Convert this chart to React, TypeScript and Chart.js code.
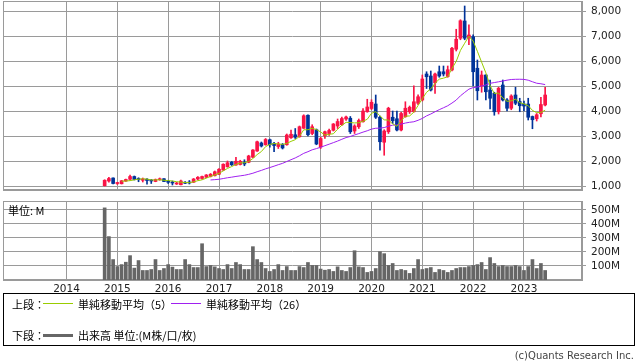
import React, { useEffect, useRef } from 'react';
import { Chart, registerables } from 'chart.js';

Chart.register(...registerables);

// ---- data (monthly, from 2014-10 to 2023-06) ----
const FIRST_YEAR = 2014;
const FIRST_MONTH = 10;

const opens = [
  1010, 1200, 1320,
  1100, 1090, 1200, 1270, 1380, 1300, 1230, 1270, 1230, 1180, 1250, 1290,
  1190, 1160, 1080, 1050, 1150, 1140, 1150, 1280, 1300, 1350, 1380, 1410,
  1470, 1640, 1770, 1950, 1840, 1860, 1950, 1950, 2150, 2400, 2720, 2650,
  2850, 2700, 2580, 2660, 2650, 2930, 3050, 2970, 3310, 3830, 3100, 3250,
  2560, 3010, 3100, 3230, 3400, 3450, 3680, 3710, 3200, 3370, 3570, 3970,
  4100, 4280, 3750, 2750, 3170, 3750, 3690, 3240, 3770, 3970, 3970, 4310,
  4440, 5480, 5400, 5130, 5570, 5570, 5380, 5640, 6470, 6910, 7600, 6920,
  6970, 5710, 5000, 5440, 4840, 4710, 3970, 5040, 4440, 4110, 4640, 4380,
  4280, 4280, 3780, 3690, 3890, 4240,
];
const highs = [
  1250, 1350, 1330,
  1150, 1220, 1280, 1440, 1400, 1330, 1320, 1300, 1260, 1280, 1320, 1300,
  1230, 1200, 1150, 1240, 1180, 1220, 1300, 1380, 1400, 1460, 1500, 1600,
  1700, 1890, 2000, 1980, 2150, 2030, 2050, 2230, 2460, 2800, 2760, 2900,
  2880, 2750, 2750, 2700, 3080, 3240, 3300, 3400, 3850, 3850, 3450, 3280,
  2950, 3200, 3280, 3500, 3680, 3760, 3800, 3780, 3450, 3680, 4100, 4470,
  4450, 4640, 3800, 3250, 4150, 4000, 4000, 3950, 4370, 4200, 5010, 4650,
  5440, 5570, 5600, 5520, 5800, 5800, 5800, 6550, 7270, 7650, 8200, 7450,
  7050, 6040, 5600, 5450, 5240, 4750, 4950, 5240, 4500, 4650, 4950, 4510,
  4400, 4510, 3800, 3900, 4550, 4950,
];
const lows = [
  1000, 1150, 1080,
  1060, 1080, 1180, 1230, 1240, 1170, 1160, 1070, 1100, 1170, 1230, 1170,
  1100, 1040, 1060, 1040, 1090, 1080, 1140, 1240, 1270, 1330, 1360, 1400,
  1450, 1620, 1750, 1820, 1820, 1840, 1810, 1930, 2130, 2380, 2560, 2630,
  2550, 2370, 2500, 2480, 2630, 2900, 2900, 2950, 3300, 3000, 3050, 2650,
  2500, 2900, 3020, 3200, 3300, 3420, 3620, 3100, 3100, 3300, 3550, 3950,
  4050, 3700, 2430, 2230, 3100, 3500, 3200, 3200, 3750, 3900, 3950, 4250,
  4400, 4900, 4800, 4700, 5350, 5400, 5350, 5600, 6400, 6850, 6850, 6650,
  5000, 4440, 4750, 4440, 4080, 3830, 3880, 4400, 4000, 4050, 4250, 3970,
  4000, 3640, 3290, 3600, 3760, 4200,
];
const closes = [
  1230, 1300, 1100,
  1120, 1210, 1260, 1380, 1260, 1250, 1280, 1220, 1200, 1260, 1290, 1180,
  1150, 1120, 1120, 1200, 1110, 1120, 1280, 1350, 1380, 1440, 1470, 1570,
  1670, 1870, 1930, 1850, 1990, 1990, 1880, 2200, 2440, 2770, 2600, 2860,
  2650, 2620, 2680, 2520, 3040, 3070, 2950, 3370, 3810, 3050, 3370, 2680,
  2900, 3170, 3220, 3480, 3580, 3700, 3760, 3170, 3400, 3620, 4000, 4160,
  4350, 3750, 2770, 3200, 4110, 3610, 3240, 3900, 4110, 4150, 4370, 4570,
  5280, 5370, 4840, 5480, 5400, 5480, 5650, 6510, 6870, 7610, 6910, 7040,
  5570, 4810, 5440, 4770, 4510, 3970, 4910, 4440, 4110, 4600, 4310, 4210,
  4200, 3750, 3650, 3850, 4260, 4640,
];
// volume in millions
const volumes = [
  515, 310, 146,
  96, 110, 127, 174, 85, 139, 68, 68, 75, 146, 68, 82,
  110, 92, 75, 75, 146, 110, 89, 89, 259, 96, 104, 94,
  82, 75, 110, 82, 125, 110, 75, 75, 238, 146, 125, 82,
  61, 75, 110, 68, 96, 68, 68, 96, 89, 125, 104, 104,
  78, 70, 75, 61, 94, 68, 61, 89, 209, 94, 89, 54,
  61, 82, 202, 188, 104, 118, 68, 75, 68, 47, 82, 146,
  75, 82, 89, 54, 75, 68, 54, 68, 82, 89, 89, 96,
  104, 110, 125, 75, 160, 118, 96, 104, 96, 96, 104, 96,
  68, 96, 146, 82, 118, 68,
];

const yearLabels = ['2014', '2015', '2016', '2017', '2018', '2019', '2020', '2021', '2022', '2023'];
const priceTicks = [1000, 2000, 3000, 4000, 5000, 6000, 7000, 8000];
const volumeTicks = [100, 200, 300, 400, 500];

// ---- styles ----
const GRID = '#9a9a9a';
const UP = '#fa1446';
const DOWN = '#003399';
const SMA5_COLOR = '#99cc00';
const SMA26_COLOR = '#a020f0';
const VOL_COLOR = '#666666';
const TICK_FONT = { family: 'DejaVu Sans', size: 10.5 };
const JP_FONT = "'Noto Sans CJK JP', sans-serif";

// x axis in months relative to Jan 2015
const BASE_YEAR = 2015;
const X_MIN = -27;
const X_MAX = 109.7;
const monthOf = (i: number) => (FIRST_YEAR - BASE_YEAR) * 12 + (FIRST_MONTH - 1) + i;
const yearTickValues = yearLabels.map((y) => (Number(y) - BASE_YEAR) * 12);

function sma(values: number[], n: number) {
  return values.map((_, i) => {
    if (i < n - 1) return null;
    let s = 0;
    for (let k = i - n + 1; k <= i; k++) s += values[k];
    return s / n;
  });
}

const framePlugin = {
  id: 'frame',
  beforeDatasetsDraw(chart: any) {
    const { ctx, chartArea } = chart;
    ctx.save();
    ctx.strokeStyle = GRID;
    ctx.lineWidth = 1;
    const l = Math.round(chartArea.left) + 0.5;
    const t = Math.round(chartArea.top) + 0.5;
    const r = Math.round(chartArea.right) - 0.5;
    const b = Math.round(chartArea.bottom) - 0.5;
    ctx.strokeRect(l, t, r - l, b - t);
    ctx.restore();
  },
};

function xScale(showLabels: boolean) {
  return {
    type: 'linear',
    min: X_MIN,
    max: X_MAX,
    offset: false,
    afterBuildTicks: (s: any) => {
      s.ticks = yearTickValues.map((v) => ({ value: v }));
    },
    afterFit: (s: any) => {
      s.height = showLabels ? 14 : 0;
      s.paddingLeft = 0;
      s.paddingRight = 0;
    },
    ticks: {
      display: showLabels,
      autoSkip: false,
      maxRotation: 0,
      padding: 3,
      color: '#222',
      font: TICK_FONT,
      callback: (v: number) => String(BASE_YEAR + Math.round(v / 12)),
    },
    grid: { color: GRID, drawTicks: false, offset: false, lineWidth: 1 },
    border: { color: GRID },
  };
}

function yScale(min: number, max: number, ticks: number[], fmt: (v: number) => string) {
  return {
    position: 'right',
    min,
    max,
    afterBuildTicks: (s: any) => {
      s.ticks = ticks.map((v) => ({ value: v }));
    },
    afterFit: (s: any) => {
      s.width = 56;
      s.paddingTop = 0;
      s.paddingBottom = 0;
    },
    ticks: {
      padding: 5,
      color: '#222',
      font: TICK_FONT,
      callback: (v: any) => fmt(Number(v)),
    },
    grid: { color: GRID, tickLength: 4 },
    border: { color: GRID },
  };
}

export default function App() {
  const priceRef = useRef<HTMLCanvasElement>(null);
  const volRef = useRef<HTMLCanvasElement>(null);

  useEffect(() => {
    const xs = closes.map((_, i) => monthOf(i));
    const sma5 = sma(closes, 5);
    const sma26 = sma(closes, 26);
    const colors = closes.map((c, i) => (c >= opens[i] ? UP : DOWN));

    const price = new Chart(priceRef.current as HTMLCanvasElement, {
      type: 'bar',
      data: {
        datasets: [
          {
            type: 'line',
            data: xs.map((x, i) => ({ x, y: sma5[i] })),
            borderColor: SMA5_COLOR,
            borderWidth: 1,
            pointRadius: 0,
            spanGaps: false,
            order: 1,
          } as any,
          {
            type: 'line',
            data: xs.map((x, i) => ({ x, y: sma26[i] })),
            borderColor: SMA26_COLOR,
            borderWidth: 1,
            pointRadius: 0,
            spanGaps: false,
            order: 1,
          } as any,
          {
            data: xs.map((x, i) => ({ x, y: [lows[i], highs[i]] })),
            backgroundColor: colors,
            barThickness: 1,
            grouped: false,
            borderWidth: 0,
            order: 3,
          } as any,
          {
            data: xs.map((x, i) => ({ x, y: [opens[i], closes[i]] })),
            backgroundColor: colors,
            barThickness: 3,
            minBarLength: 1,
            grouped: false,
            borderWidth: 0,
            order: 2,
          } as any,
        ],
      },
      options: {
        animation: false,
        responsive: false,
        maintainAspectRatio: false,
        events: [],
        layout: { padding: { left: 3, top: 1, right: 0, bottom: 1 } },
        plugins: { legend: { display: false }, tooltip: { enabled: false } },
        scales: {
          x: xScale(false) as any,
          y: yScale(840, 8400, priceTicks, (v) => v.toLocaleString('en-US')) as any,
        },
      },
      plugins: [framePlugin],
    });

    const vol = new Chart(volRef.current as HTMLCanvasElement, {
      type: 'bar',
      data: {
        datasets: [
          {
            data: xs.map((x, i) => ({ x, y: volumes[i] })),
            backgroundColor: VOL_COLOR,
            barThickness: 3,
            borderWidth: 0,
          } as any,
        ],
      },
      options: {
        animation: false,
        responsive: false,
        maintainAspectRatio: false,
        events: [],
        layout: { padding: { left: 3, top: 2, right: 0, bottom: 0 } },
        plugins: { legend: { display: false }, tooltip: { enabled: false } },
        scales: {
          x: xScale(true) as any,
          y: yScale(0, 564, volumeTicks, (v) => `${v}M`) as any,
        },
      },
      plugins: [framePlugin],
    });

    return () => {
      price.destroy();
      vol.destroy();
    };
  }, []);

  const txt = (left: number, top: number, s: string) => (
    <span
      style={{
        position: 'absolute',
        left,
        top,
        fontFamily: JP_FONT,
        fontSize: 11,
        lineHeight: '14px',
        color: '#000',
        whiteSpace: 'nowrap',
      }}
    >
      {s}
    </span>
  );
  const line = (left: number, top: number, w: number, h: number, c: string) => (
    <div style={{ position: 'absolute', left, top, width: w, height: h, background: c }} />
  );

  return (
    <div style={{ position: 'absolute', left: 0, top: 0, width: 638, height: 362, background: '#fff', overflow: 'hidden' }}>
      <canvas
        ref={priceRef}
        width={638}
        height={191}
        style={{ position: 'absolute', left: 0, top: 0, width: 638, height: 191 }}
      />
      <canvas
        ref={volRef}
        width={638}
        height={95}
        style={{ position: 'absolute', left: 0, top: 199, width: 638, height: 95 }}
      />
      {txt(8, 203, '単位: M')}
      <div
        style={{
          position: 'absolute',
          left: 3,
          top: 293,
          width: 632,
          height: 53,
          border: '1px solid #000',
          boxSizing: 'border-box',
        }}
      />
      {txt(12, 297, '上段：')}
      {line(43, 303, 30, 1, SMA5_COLOR)}
      {txt(78, 297, '単純移動平均（5）')}
      {line(171, 303, 30, 1, SMA26_COLOR)}
      {txt(206, 297, '単純移動平均（26）')}
      {txt(12, 328, '下段：')}
      {line(43, 334, 30, 3, VOL_COLOR)}
      {txt(78, 328, '出来高 単位:(M株/口/枚)')}
      <span
        style={{
          position: 'absolute',
          right: 4,
          top: 349,
          fontFamily: 'DejaVu Sans',
          fontSize: 10,
          lineHeight: '13px',
          color: '#444',
          whiteSpace: 'nowrap',
        }}
      >
        (c)Quants Research Inc.
      </span>
    </div>
  );
}
